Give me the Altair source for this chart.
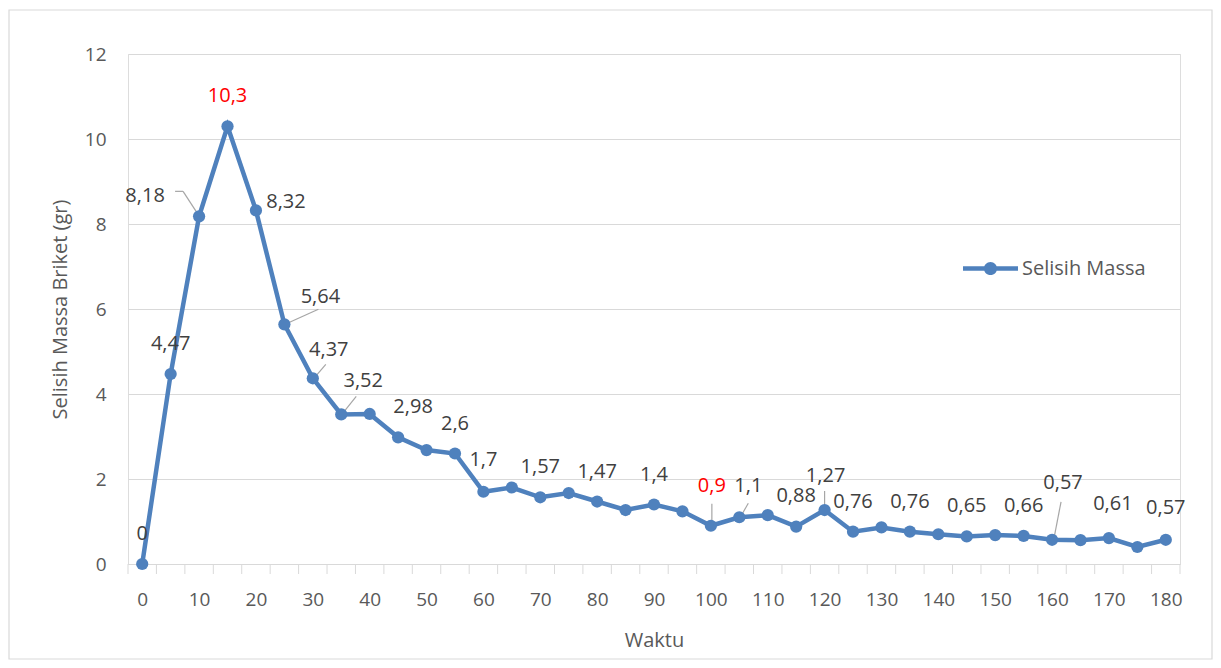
import altair as alt
import pandas as pd

# ---- data ----
times = list(range(0, 185, 5))
values = [0, 4.47, 8.18, 10.3, 8.32, 5.64, 4.37, 3.52, 3.53, 2.98, 2.68, 2.6,
          1.7, 1.8, 1.57, 1.67, 1.47, 1.27, 1.4, 1.24, 0.9, 1.1, 1.15, 0.88,
          1.27, 0.76, 0.86, 0.76, 0.7, 0.65, 0.68, 0.66, 0.57, 0.56, 0.61, 0.4, 0.57]
labels = ["0", "4,47", "8,18", "10,3", "8,32", "5,64", "4,37", "3,52", "", "2,98", "", "2,6",
          "1,7", "", "1,57", "", "1,47", "", "1,4", "", "0,9", "1,1", "", "0,88",
          "1,27", "0,76", "", "0,76", "", "0,65", "", "0,66", "0,57", "", "0,61", "", "0,57"]
highlight_times = [15, 100]
series_name = "Selisih Massa"
x_tick_labels = list(range(0, 190, 10))
y_ticks = [0, 2, 4, 6, 8, 10, 12]

df = pd.DataFrame({"time": times, "value": values, "label": labels})
df["series"] = series_name
df["hl"] = df["time"].isin(highlight_times)

# ---- styling ----
BLUE = "#4f81bd"
GRID = "#d9d9d9"
AXIS_TXT = "#595959"
LBL_TXT = "#404040"
FONT = "Open Sans"
W, H = 1052, 510
step = 5
xdom = [times[0] - step / 2, times[-1] + step / 2]

xscale = alt.Scale(domain=xdom, nice=False, zero=False)
yscale = alt.Scale(domain=[0, 12], nice=False)

base = alt.Chart(df)

line = base.mark_line(color=BLUE, strokeWidth=4.5).encode(
    x=alt.X("time:Q", scale=xscale,
            axis=alt.Axis(values=x_tick_labels, title="Waktu", ticks=False, grid=False,
                          domainColor=GRID, labelFontSize=19, labelColor=AXIS_TXT,
                          labelFont=FONT, labelPadding=26, titleFont=FONT,
                          titleFontSize=20, titleColor=AXIS_TXT, titleFontWeight="normal",
                          titlePadding=21)),
    y=alt.Y("value:Q", scale=yscale,
            axis=alt.Axis(values=y_ticks, title="Selisih Massa Briket (gr)", ticks=False,
                          domain=False, gridColor=GRID, labelFontSize=19,
                          labelColor=AXIS_TXT, labelFont=FONT, labelPadding=22,
                          titleFont=FONT, titleFontSize=20, titleColor=AXIS_TXT,
                          titleFontWeight="normal", titlePadding=14)),
)

legend_path = ("M-1,-0.08L1,-0.08L1,0.08L-1,0.08Z "
               "M0.24,0A0.24,0.24,0,1,1,-0.24,0A0.24,0.24,0,1,1,0.24,0Z")

points = base.mark_point(filled=True, size=150, opacity=1).encode(
    x=alt.X("time:Q", scale=xscale),
    y=alt.Y("value:Q", scale=yscale),
    color=alt.Color("series:N", scale=alt.Scale(range=[BLUE]),
                    legend=alt.Legend(orient="none", legendX=835, legendY=187, title=None,
                                      symbolType=legend_path, symbolSize=3025,
                                      symbolStrokeWidth=0, labelFontSize=20,
                                      labelColor=AXIS_TXT, labelFont=FONT, labelOffset=4)),
)

# tick marks between categories
bounds = pd.DataFrame({"b": [t - step / 2 for t in times] + [times[-1] + step / 2]})
ticks = alt.Chart(bounds).mark_rule(color=GRID, strokeWidth=1).encode(
    x=alt.X("b:Q", scale=xscale),
    y=alt.value(H),
    y2=alt.value(H + 10),
)

# label placement (pixel nudges relative to the point)
default_nudge = (0, -30)
nudge = {10: (-54, -20), 20: (30, -8), 25: (36, -27), 30: (16, -28), 35: (22, -33),
         45: (15, -30), 60: (0, -32), 100: (1, -40), 105: (9, -31), 115: (0, -31),
         120: (1, -34), 160: (11, -57), 170: (4, -34), 180: (0, -32)}

text_layers = []
labelled = df[df["label"] != ""]
groups = {}
for t in labelled["time"]:
    groups.setdefault(nudge.get(t, default_nudge), []).append(t)
for (dx, dy), ts in groups.items():
    text_layers.append(
        base.transform_filter(alt.FieldOneOfPredicate(field="time", oneOf=ts))
        .mark_text(dx=dx, dy=dy, fontSize=20, font=FONT, align="center", baseline="middle")
        .encode(
            x=alt.X("time:Q", scale=xscale),
            y=alt.Y("value:Q", scale=yscale),
            text="label:N",
            color=alt.condition(alt.datum.hl, alt.value("#ff0000"), alt.value(LBL_TXT)),
        )
    )

# leader lines: (time, x1, y1, x2, y2) pixel offsets from the point
leaders = [(10, -24, -25, -16, -25), (10, -16, -25, -3, -5), (25, 34, -15, 3, -1),
           (30, 13, -14, 1, 0), (35, 15, -18, 3, -3), (100, 1, -22, 1, -1),
           (105, 9, -14, 1, 0), (120, 0, -19, 0, -1), (160, 9, -38, 2, -2)]
leader_layers = []
for t, x1, y1, x2, y2 in leaders:
    leader_layers.append(
        base.transform_filter(alt.datum.time == t)
        .mark_rule(color="#a6a6a6", strokeWidth=1.2, xOffset=x1, yOffset=y1,
                   x2Offset=x2, y2Offset=y2)
        .encode(
            x=alt.X("time:Q", scale=xscale), x2="time:Q",
            y=alt.Y("value:Q", scale=yscale), y2="value:Q",
        )
    )

border = alt.Chart(pd.DataFrame({"k": [0]})).mark_rect(
    fillOpacity=0, stroke=GRID, strokeWidth=1.2
).encode(x=alt.value(-119), x2=alt.value(1084), y=alt.value(-44), y2=alt.value(605))

chart = alt.layer(border, ticks, line, *leader_layers, points, *text_layers).properties(
    width=W, height=H,
    autosize=alt.AutoSizeParams(type="none"),
    padding={"left": 120, "top": 46, "right": 33, "bottom": 96},
).configure_view(stroke=None).configure(background="white")

chart.save("out.html", embed_options={"renderer": "svg", "actions": False})
